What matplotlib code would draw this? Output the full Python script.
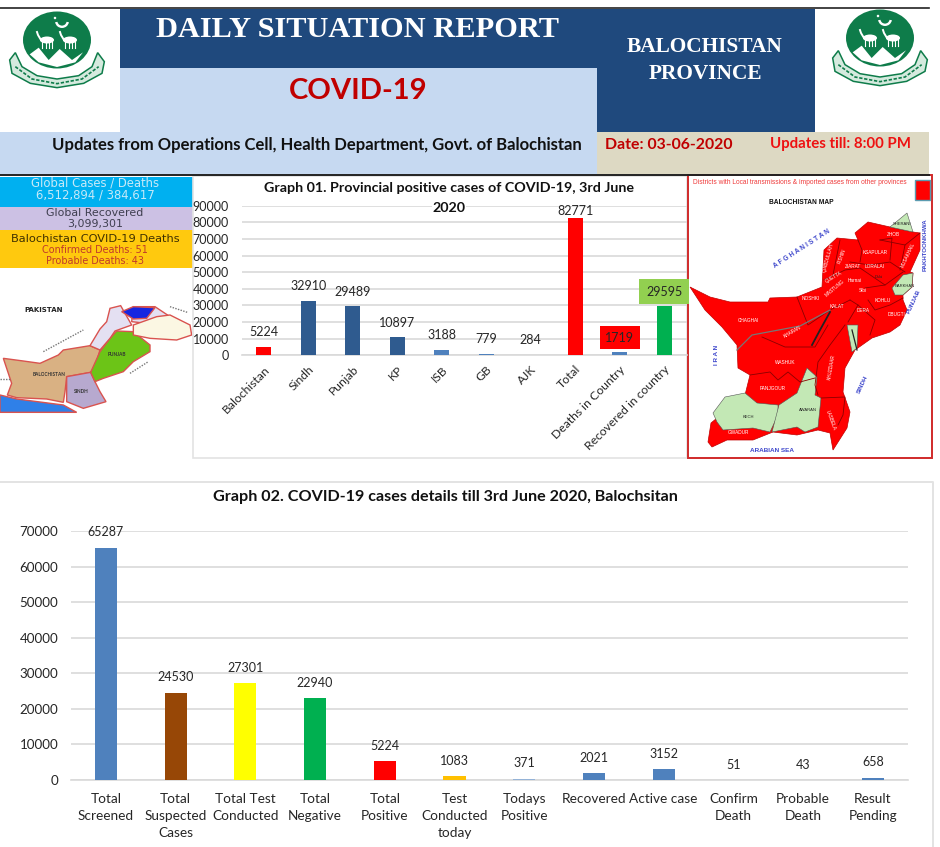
import matplotlib
matplotlib.use("Agg")
import matplotlib.pyplot as plt
from matplotlib.patches import Ellipse, Polygon, Rectangle, Wedge

plt.rcParams["font.family"] = ["Lato", "DejaVu Sans"]

# graph 01
prov_names = ["Balochistan", "Sindh", "Punjab", "KP", "ISB", "GB", "AJK", "Total",
              "Deaths in Country", "Recovered in country"]
prov_values = [5224, 32910, 29489, 10897, 3188, 779, 284, 82771, 1719, 29595]
prov_colors = ["#ff0000", "#2f5b8f", "#2f5b8f", "#2f5b8f", "#4f81bd", "#4f81bd", "#4f81bd",
               "#ff0000", "#4f81bd", "#00b050"]

# graph 02
detail_names = ["Total\nScreened", "Total\nSuspected\nCases", "Total Test\nConducted",
                "Total\nNegative", "Total\nPositive", "Test\nConducted\ntoday",
                "Todays\nPositive", "Recovered", "Active case", "Confirm\nDeath",
                "Probable\nDeath", "Result\nPending"]
detail_values = [65287, 24530, 27301, 22940, 5224, 1083, 371, 2021, 3152, 51, 43, 658]
detail_colors = ["#4f81bd", "#974706", "#ffff00", "#00b050", "#ff0000", "#ffc000",
                 "#95b3d7", "#4f81bd", "#4f81bd", "#4f81bd", "#4f81bd", "#4f81bd"]

W, H = 940, 847
TEXT = "#262626"
GRID = "#d9d9d9"
GREEN = "#0e7c4a"
SERIF = "Liberation Serif"
SANS = "Liberation Sans"

fig = plt.figure(figsize=(W / 100, H / 100), dpi=100, facecolor="white")
bg = fig.add_axes([0, 0, 1, 1])
bg.set_xlim(0, W)
bg.set_ylim(H, 0)
bg.axis("off")


def box(x0, y0, x1, y1, color):
    bg.add_patch(Rectangle((x0, y0), x1 - x0, y1 - y0, facecolor=color, edgecolor="none"))


def emblem(cx, cy):
    def z(points):
        return [(cx + (x - 170) / 3, cy + (y - 105) / 3) for x, y in points]

    ribbon = [(28, 165), (45, 143), (65, 185), (110, 212), (170, 222), (235, 212), (275, 185),
              (292, 143), (312, 170), (305, 205), (250, 235), (170, 248), (90, 235), (35, 205)]
    bg.add_patch(Polygon(z(ribbon), facecolor="#d5eade", edgecolor=GREEN, lw=1.1))
    x, y = zip(*z([(45, 185), (95, 222), (170, 236), (245, 222), (295, 185)]))
    bg.plot(x, y, color=GREEN, lw=1.2, ls=(0, (2, 1)))

    bg.add_patch(Ellipse((cx, cy), 68, 57, facecolor=GREEN, edgecolor="none"))
    hills = [(88, 148), (115, 128), (145, 165), (178, 132), (215, 165), (248, 142), (225, 172),
             (170, 186), (115, 172)]
    bg.add_patch(Polygon(z(hills), facecolor="white", edgecolor="none"))
    bg.add_patch(Wedge((cx + 5, cy - 19), 7, 10, 170, width=2.4, facecolor="white", edgecolor="none"))
    bg.add_patch(Ellipse((cx - 2, cy - 22), 2.5, 2.5, facecolor="white", edgecolor="none"))
    for dx in (-10, 13):
        bg.add_patch(Ellipse((cx + dx, cy), 14, 7, facecolor="white", edgecolor="none"))
        for leg in (-5, -1, 2, 5):
            bg.plot([cx + dx + leg, cx + dx + leg], [cy, cy + 8], color="white", lw=0.8)
        bg.plot([cx + dx - 6, cx + dx - 9, cx + dx - 10], [cy, cy - 5, cy - 8], color="white", lw=1.4)


# header banner
box(120, 9, 815, 68, "#1f497d")
box(597, 68, 815, 132, "#1f497d")
box(120, 68, 597, 132, "#c6d9f1")
box(0, 132, 597, 174, "#c6d9f1")
box(597, 132, 929, 174, "#ddd9c3")
bg.plot([0, 929], [8, 8], color="#222222", lw=1.2)
bg.plot([0, 929], [175, 175], color="#222222", lw=1.4)
emblem(57, 40)
emblem(880, 38)

bg.text(358, 29.5, "DAILY SITUATION REPORT", color="white", family=SERIF, weight="bold",
        fontsize=21.9, ha="center", va="center")
bg.text(705, 46.5, "BALOCHISTAN", color="white", family=SERIF, weight="bold", fontsize=15.4,
        ha="center", va="center")
bg.text(705, 74, "PROVINCE", color="white", family=SERIF, weight="bold", fontsize=15.4,
        ha="center", va="center")
bg.text(358, 91, "COVID-19", color="#c00000", weight="bold", fontsize=21, ha="center", va="center")
bg.text(317, 145, "Updates from Operations Cell, Health Department, Govt. of Balochistan",
        color="#111111", weight="bold", fontsize=12, ha="center", va="center")
bg.text(669, 145, "Date: 03-06-2020", color="#c00000", weight="bold", fontsize=11.4, ha="center",
        va="center")
bg.text(840, 144, "Updates till: 8:00 PM", color="#ee1111", weight="bold", fontsize=10.8, ha="center",
        va="center")

# left info panel
box(0, 177, 193, 207, "#00b0f0")
box(0, 207, 193, 230, "#ccc1e4")
box(0, 230, 193, 268, "#ffc90e")
WIDE = "DejaVu Sans"
bg.text(95, 183, "Global Cases / Deaths", color="#c6e9f8", family=WIDE, fontsize=8.4, ha="center", va="center")
bg.text(95, 195, "6,512,894 / 384,617", color="#c6e9f8", family=WIDE, fontsize=8.4, ha="center", va="center")
bg.text(95, 213, "Global Recovered", color="#3f3f50", family=WIDE, fontsize=7.9, ha="center", va="center")
bg.text(95, 224.5, "3,099,301", color="#3f3f50", family=WIDE, fontsize=7.9, ha="center", va="center")
bg.text(95, 239, "Balochistan COVID-19 Deaths", color="#3f3000", family=WIDE, fontsize=8.2, ha="center", va="center")
bg.text(95, 250, "Confirmed Deaths: 51", color="#c0392b", family=WIDE, fontsize=6.9, ha="center", va="center")
bg.text(95, 261, "Probable Deaths: 43", color="#c0392b", family=WIDE, fontsize=6.9, ha="center", va="center")


def pak(points):
    return [(x / 3, 175 + y / 3) for x, y in points]


pak_shapes = [
    ("#2f80e8", [(0, 660), (50, 672), (190, 690), (230, 712), (0, 712)]),
    ("#d9b183", [(10, 550), (70, 558), (120, 565), (175, 540), (190, 525), (270, 512), (300, 525),
                 (285, 575), (272, 592), (200, 605), (195, 650), (190, 682), (140, 672), (50, 668),
                 (22, 660), (35, 625)]),
    ("#b7a9cf", [(200, 605), (272, 592), (285, 620), (300, 650), (318, 680), (250, 700), (200, 680)]),
    ("#6cc417", [(350, 468), (400, 470), (450, 510), (450, 530), (400, 560), (370, 590), (310, 610),
                 (285, 620), (272, 592), (300, 530), (330, 490)]),
    ("#e4e0f2", [(270, 512), (300, 462), (320, 440), (330, 400), (362, 392), (395, 450), (345, 468),
                 (330, 490), (300, 525)]),
    ("#e4e0f2", [(400, 395), (465, 395), (510, 425), (440, 445), (395, 440)]),
    ("#fbf7e3", [(400, 450), (470, 425), (510, 420), (570, 450), (575, 480), (530, 495), (450, 490),
                 (400, 480)]),
    ("#1726e0", [(365, 410), (400, 395), (465, 398), (440, 430), (400, 432)]),
]
for color, pts in pak_shapes:
    bg.add_patch(Polygon(pak(pts), facecolor=color, edgecolor="#d9534f", lw=1))
for pts in ([(130, 530), (250, 465)], [(390, 595), (445, 560)], [(510, 395), (562, 412)], [(0, 612), (30, 612)]):
    x, y = zip(*pak(pts))
    bg.plot(x, y, color="#777777", lw=1, ls=(0, (1, 1)))
bg.text(44, 310.5, "PAKISTAN", color="#222222", family=WIDE, weight="bold", fontsize=5, ha="center", va="center")
for label, x, y in [("BALOCHISTAN", 147, 598), ("SINDH", 243, 650), ("PUNJAB", 352, 540)]:
    bg.text(x / 3, 175 + y / 3, label, color="#333333", weight="bold", fontsize=3.4, ha="center",
            va="center")

# graph 01 and graph 02 frames
bg.add_patch(Rectangle((193, 176), 494, 282, facecolor="none", edgecolor="#e3e3e3", lw=1.2))
bg.plot([0, 933, 933], [482, 482, H], color="#e3e3e3", lw=1.4)

# Balochistan map artwork, page pixels
bal_outline = [(690, 287), (710, 297), (730, 302), (768, 302), (770, 298), (797, 297), (822, 287),
               (824, 250), (837, 238), (858, 240), (855, 233), (868, 222), (890, 227), (913, 232),
               (920, 233), (920, 250), (910, 272), (913, 273), (912, 287), (903, 295), (903, 300),
               (907, 310), (900, 325), (890, 332), (872, 338), (855, 350), (845, 368), (843, 392),
               (850, 412), (847, 428), (833, 450), (830, 433), (818, 430), (797, 435), (773, 432),
               (753, 440), (727, 440), (712, 447), (708, 442), (711, 423), (745, 395), (750, 375),
               (738, 368), (737, 345), (722, 327), (705, 310)]
bal_green = [
    [(713, 413), (725, 397), (745, 393), (757, 403), (778, 405), (778, 415), (770, 432), (753, 428),
     (723, 430), (717, 422)],
    [(772, 432), (779, 405), (797, 393), (807, 368), (817, 377), (815, 395), (821, 398), (818, 427),
     (805, 432), (797, 427)],
    [(890, 227), (907, 213), (913, 232)],
    [(892, 288), (903, 275), (913, 273), (912, 287), (903, 295), (895, 295)],
    [(847, 325), (858, 325), (857, 348), (852, 352)],
]
bal_lines = [
    [(762, 337), (785, 347), (815, 347), (828, 325)],
    [(750, 375), (770, 372), (778, 380), (788, 372), (800, 382), (815, 378)],
    [(818, 395), (815, 385), (818, 362), (830, 345), (845, 325)],
    [(821, 398), (845, 397), (843, 415), (838, 425)],
    [(797, 297), (808, 325), (830, 310), (850, 300)],
    [(824, 280), (845, 270), (860, 268), (885, 285), (903, 272)],
    [(850, 262), (870, 265), (890, 262), (905, 272)],
    [(858, 240), (862, 250), (860, 262)],
    [(880, 240), (892, 238), (890, 260)],
    [(880, 240), (905, 245), (920, 233)],
    [(905, 245), (900, 270)],
    [(868, 300), (875, 310), (890, 305), (903, 298)],
    [(865, 288), (885, 285)],
    [(858, 305), (875, 320), (870, 335)],
    [(840, 240), (833, 275)],
    [(850, 300), (858, 305), (848, 322)],
]
bg.add_patch(Polygon(bal_outline, facecolor="#ff0000", edgecolor="#c00000", lw=0.5))
for pts in bal_green:
    bg.add_patch(Polygon(pts, facecolor="#c3e8b5", edgecolor="#555555", lw=0.4))
for pts in bal_lines:
    x, y = zip(*pts)
    bg.plot(x, y, color="#8a0000", lw=0.6)
bg.plot([812, 820, 830], [345, 330, 312], color="#222222", lw=1.3)
bg.plot([737, 752, 800, 830], [350, 335, 326, 310], color="#777777", lw=0.9)
bg.plot([852, 857], [330, 350], color="#222222", lw=0.9)

bg.add_patch(Rectangle((688, 175), 244, 283, facecolor="none", edgecolor="#d02a2a", lw=1.4))
box(914.5, 180, 930, 200, "#ff0000")
bg.add_patch(Rectangle((914.5, 180), 15.5, 20, facecolor="none", edgecolor="#5b9bb0", lw=1))
bg.text(800, 183, "Districts with Local transmissions & imported cases from other provinces",
        color="#ef3b3b", family=SANS, fontsize=4.8, ha="center", va="center")
bg.text(801, 202.5, "BALOCHISTAN MAP", color="#111111", family=SANS, weight="bold",
        fontsize=4.8, ha="center", va="center")

white_labels = [("ZHOB", 893, 235, 0), ("KSAPULAR", 875, 252, 0), ("LORALAI", 875, 267, 0),
                ("ZIARAT", 853, 267, 0), ("QUETTA", 834, 277, 30), ("MASTUNG", 835, 288, 40),
                ("Harnai", 855, 281, 0), ("Sibi", 863, 290, 0), ("KOHLU", 883, 300, 0),
                ("NOSHKI", 811, 299, 0), ("KALAT", 837, 307, 0), ("DERA", 863, 310, 0),
                ("DBUGTI", 897, 315, 0), ("CHAGHAI", 748, 320, 0), ("KHARAN", 792, 332, 30),
                ("WASHUK", 785, 363, 0), ("PANJGOUR", 773, 389, 0), ("KHUZDAAR", 831, 367, 80),
                ("LASBELA", 831, 420, -70), ("GWADUR", 738, 433, 0), ("PISHIN", 842, 256, 70),
                ("Q.ABDULLAH", 828, 258, 75), ("MUSAKHAIL", 908, 255, 65)]
for label, x, y, rot in white_labels:
    bg.text(x, y, label, color="white", family=SANS, fontsize=3.4, rotation=rot, ha="center", va="center")
for label, x, y in [("KECH", 748, 417), ("AWARAN", 808, 410), ("SHERANI", 902, 224), ("BARKHAN", 905, 286),
                    ("Duki", 879, 277)]:
    bg.text(x, y, label, color="#222222", family=SANS, fontsize=3, ha="center", va="center")
blue_labels = [("A F G H A N I S T A N", 802, 249, 33, 4.8), ("I R A N", 717, 355, 90, 4.6),
               ("ARABIAN SEA", 772, 450, 0, 4.6), ("SINDH", 863, 385, 65, 4.6),
               ("PUNJAB", 914, 302, 65, 4.6), ("PAKHTOONKHWA", 925, 245, 90, 4.4)]
for label, x, y, rot, size in blue_labels:
    bg.text(x, y, label, color="#3f48cc", family=SANS, weight="bold", fontsize=size, rotation=rot,
            ha="center", va="center")


def chart(rect_px, names, values, colors, ymax, step, width, tick_size):
    x0, y_top, x1, y_bot = rect_px
    ax = fig.add_axes([x0 / W, 1 - y_bot / H, (x1 - x0) / W, (y_bot - y_top) / H])
    ax.patch.set_alpha(0)
    pos = list(range(len(names)))
    ax.bar(pos, values, width=width, color=colors, zorder=3)
    ax.set_xlim(-0.5, len(names) - 0.5)
    ax.set_ylim(0, ymax)
    ax.set_yticks(range(0, ymax + 1, step))
    ax.grid(axis="y", color=GRID, lw=1.2, zorder=0)
    ax.set_axisbelow(True)
    for side in ("top", "right", "left"):
        ax.spines[side].set_visible(False)
    ax.spines["bottom"].set_color(GRID)
    ax.spines["bottom"].set_linewidth(1.2)
    ax.tick_params(axis="both", length=0, labelsize=tick_size, labelcolor=TEXT)
    return ax, pos


# graph 01
ax1, pos1 = chart((241.5, 205.7, 686.5, 355.3), prov_names, prov_values, prov_colors, 90000, 10000, 0.33, 9)
ax1.tick_params(axis="y", pad=9)
ax1.set_xticks(pos1)
ax1.set_xticklabels(prov_names, rotation=45, ha="right", rotation_mode="anchor", fontsize=8.7)
ax1.tick_params(axis="x", pad=6)
for x, val in zip(pos1, prov_values):
    name = prov_names[x]
    offset = 5 if name == "Total" else 10.5
    style = {}
    if name == "Deaths in Country":
        style["bbox"] = dict(facecolor="#ff0000", edgecolor="none", boxstyle="square,pad=0.45")
    if name == "Recovered in country":
        style["bbox"] = dict(facecolor="#92d050", edgecolor="none", boxstyle="square,pad=0.55")
    ax1.annotate(str(val), (x, val), xytext=(0, offset), textcoords="offset points", ha="center",
                 va="center", fontsize=9, color=TEXT, zorder=5, **style)
ax1.text(449, 188, "Graph 01. Provincial positive cases of COVID-19, 3rd June", color="#111111",
         weight="bold", fontsize=10.3, ha="center", va="center", transform=bg.transData, clip_on=False)
ax1.text(449, 207.5, "2020", color="#111111", weight="bold", fontsize=10.3, ha="center", va="center",
         transform=bg.transData, clip_on=False, zorder=6,
         bbox=dict(facecolor="white", edgecolor="none", pad=0.6))

# graph 02
ax2, pos2 = chart((71, 531, 907.7, 780), detail_names, detail_values, detail_colors, 70000, 10000, 0.316, 9.6)
ax2.tick_params(axis="y", pad=9)
ax2.set_xticks(pos2)
ax2.set_xticklabels(detail_names, linespacing=1.5, va="top", fontsize=9.8)
ax2.tick_params(axis="x", pad=9.5)
for x, val in zip(pos2, detail_values):
    ax2.annotate(str(val), (x, val), xytext=(0, 11), textcoords="offset points", ha="center",
                 va="center", fontsize=9, color=TEXT, zorder=5)
bg.text(445, 496.5, "Graph 02. COVID-19 cases details till 3rd June 2020, Balochsitan", color="#111111",
        weight="bold", fontsize=11.6, ha="center", va="center")

fig.savefig("out.png", dpi=100)
